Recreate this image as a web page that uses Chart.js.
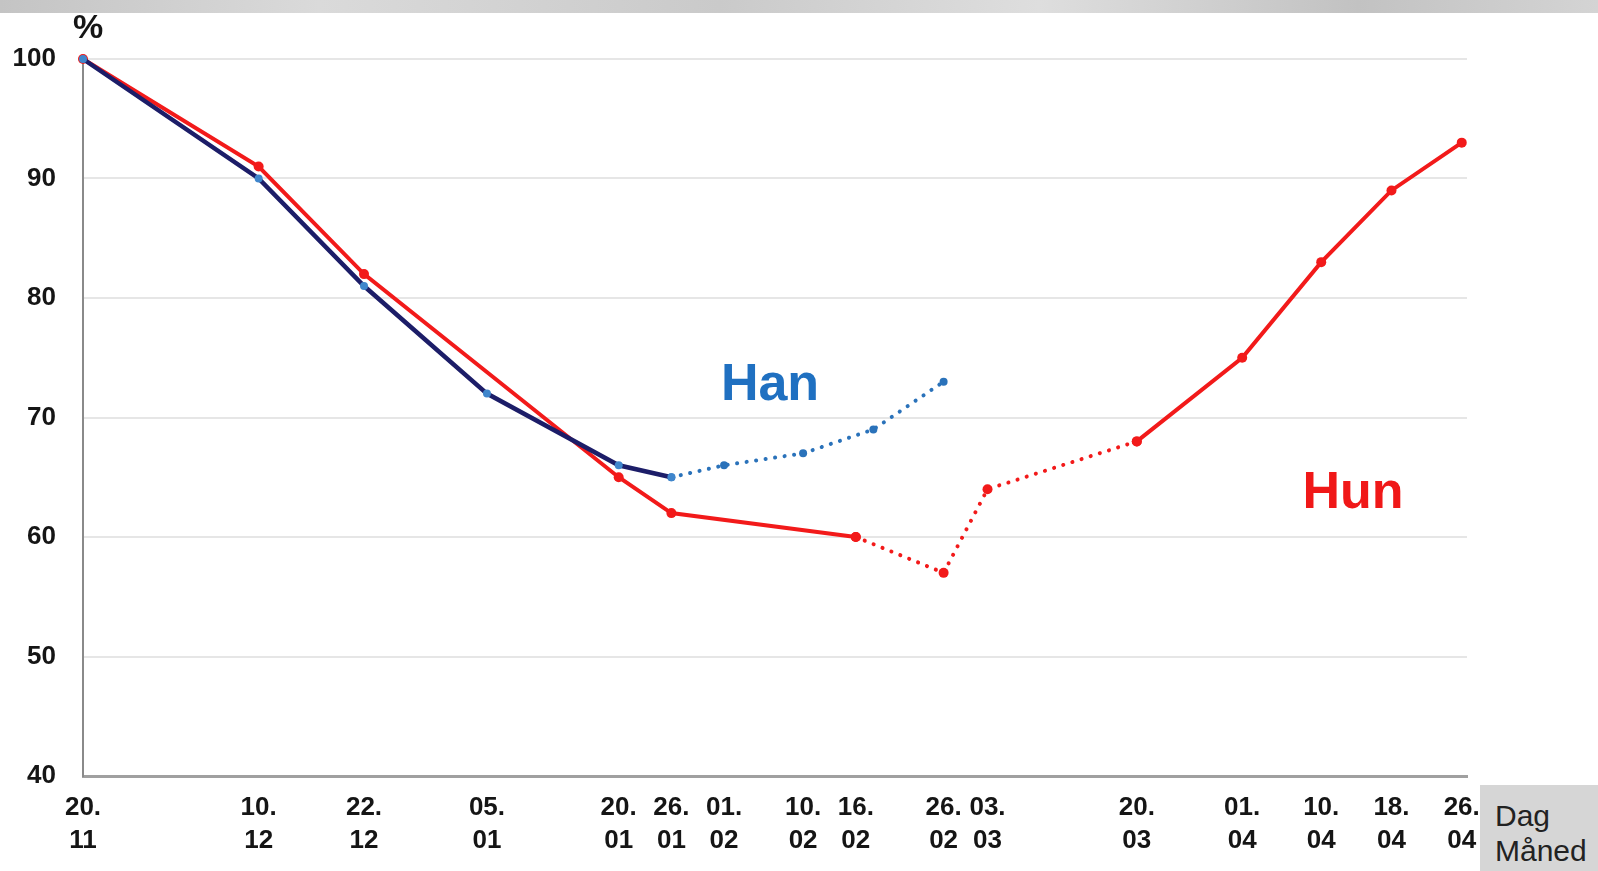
<!DOCTYPE html>
<html>
<head>
<meta charset="utf-8">
<script src="https://cdn.jsdelivr.net/npm/chart.js@4/dist/chart.umd.min.js"></script>
<style>
  body { margin: 0; background: #fff; font-family: "Liberation Sans", Arial, sans-serif; }
  #wrap { position: relative; width: 1598px; height: 871px; overflow: hidden; }
  #band { position: absolute; left: 0; top: 0; width: 1598px; height: 13px;
    background: linear-gradient(90deg, #c4c4c4 0%, #dadada 20%, #cacaca 45%, #dedede 65%, #c2c2c2 85%, #d4d4d4 100%); }
  .lbl { position: absolute; transform: translate(-50%, -50%); line-height: 1; font-weight: bold; white-space: nowrap; }
  #unit { left: 88px; top: 26px; font-size: 34px; color: #151515; }
  #han { left: 770px; top: 382px; font-size: 52px; color: #1f70c1; }
  #hun { left: 1353px; top: 490px; font-size: 52px; color: #f01818; }
  #dagbox { position: absolute; left: 1480px; top: 785px; width: 118px; height: 86px; background: #d6d6d6; }
  #dagbox div { position: absolute; left: 15px; font-size: 30px; color: #222; line-height: 1; }
</style>
</head>
<body>
<div id="wrap">
  <canvas id="chart" width="1598" height="871"></canvas>
  <div id="band"></div>
  <div class="lbl" id="unit">%</div>
  <div class="lbl" id="han">Han</div>
  <div class="lbl" id="hun">Hun</div>
  <div id="dagbox"><div style="top:16px">Dag</div><div style="top:51px">Måned</div></div>
</div>
<script>
// dates as "dag.måned"
const tickDates = ["20.11", "10.12", "22.12", "05.01", "20.01", "26.01", "01.02", "10.02",
  "16.02", "26.02", "03.03", "20.03", "01.04", "10.04", "18.04", "26.04"];
const yTicks = [40, 50, 60, 70, 80, 90, 100];

const hanSolidDates = ["20.11", "10.12", "22.12", "05.01", "20.01", "26.01"];
const hanSolidValues = [100, 90, 81, 72, 66, 65];
const hanDottedDates = ["26.01", "01.02", "10.02", "18.02", "26.02"];
const hanDottedValues = [65, 66, 67, 69, 73];

const hunSolidDates1 = ["20.11", "10.12", "22.12", "20.01", "26.01", "16.02"];
const hunSolidValues1 = [100, 91, 82, 65, 62, 60];
const hunDottedDates = ["16.02", "26.02", "03.03", "20.03"];
const hunDottedValues = [60, 57, 64, 68];
const hunSolidDates2 = ["20.03", "01.04", "10.04", "18.04", "26.04"];
const hunSolidValues2 = [68, 75, 83, 89, 93];

// days since 20.11 (season runs over new year, no leap day)
function dayIndex(s) {
  const [d, m] = s.split(".").map(Number);
  const t = Date.UTC(m >= 11 ? 2000 : 2001, m - 1, d);
  return (t - Date.UTC(2000, 10, 20)) / 86400000;
}
function points(dates, values) {
  return dates.map((d, i) => ({ x: dayIndex(d), y: values[i] }));
}

const red = "#f21a1a";
const dotted = { borderDash: [0.1, 9.5], borderCapStyle: "round", borderWidth: 4 };

const ctx = document.getElementById("chart").getContext("2d");
new Chart(ctx, {
  type: "line",
  data: {
    datasets: [
      {
        label: "Han",
        data: points(hanSolidDates, hanSolidValues),
        borderColor: "#1c1d68",
        borderWidth: 4.5,
        pointRadius: 4,
        pointBackgroundColor: "#3f86cc",
        pointBorderWidth: 0,
      },
      Object.assign({
        label: "Han (forventet)",
        data: points(hanDottedDates, hanDottedValues),
        borderColor: "#2a72ba",
        pointRadius: 4,
        pointBackgroundColor: "#2a72ba",
        pointBorderWidth: 0,
      }, dotted),
      {
        label: "Hun",
        data: points(hunSolidDates1, hunSolidValues1),
        borderColor: red,
        borderWidth: 4,
        pointRadius: 5,
        pointBackgroundColor: red,
        pointBorderWidth: 0,
      },
      Object.assign({
        label: "Hun (forventet)",
        data: points(hunDottedDates, hunDottedValues),
        borderColor: red,
        pointRadius: 5,
        pointBackgroundColor: red,
        pointBorderWidth: 0,
      }, dotted),
      {
        label: "Hun 2",
        data: points(hunSolidDates2, hunSolidValues2),
        borderColor: red,
        borderWidth: 4,
        pointRadius: 5,
        pointBackgroundColor: red,
        pointBorderWidth: 0,
      },
    ],
  },
  options: {
    responsive: false,
    animation: false,
    clip: false,
    layout: { padding: { top: 59, right: 131, left: 0, bottom: 0 } },
    plugins: {
      legend: { display: false },
      tooltip: { enabled: false },
    },
    scales: {
      x: {
        type: "linear",
        min: 0,
        max: 157.6,
        afterFit: (scale) => { scale.height = 95; },
        afterBuildTicks: (scale) => {
          scale.ticks = tickDates.map((d) => ({ value: dayIndex(d) }));
        },
        grid: { display: false, drawTicks: false },
        border: { color: "#a0a0a0", width: 3 },
        ticks: {
          autoSkip: false,
          maxRotation: 0,
          minRotation: 0,
          padding: 16,
          color: "#151515",
          font: { family: "Liberation Sans", size: 26, weight: "bold", lineHeight: 1.25 },
          callback: (value, index) => {
            const parts = tickDates[index].split(".");
            return [parts[0] + ".", parts[1]];
          },
        },
      },
      y: {
        min: 40,
        max: 100,
        afterFit: (scale) => { scale.width = 83; },
        afterBuildTicks: (scale) => {
          scale.ticks = yTicks.map((v) => ({ value: v }));
        },
        grid: { color: "#e6e6e6", lineWidth: 2, drawTicks: false },
        border: { color: "#8a8a8a", width: 2 },
        ticks: {
          padding: 27,
          color: "#151515",
          font: { family: "Liberation Sans", size: 26, weight: "bold" },
        },
      },
    },
  },
});
</script>
</body>
</html>
